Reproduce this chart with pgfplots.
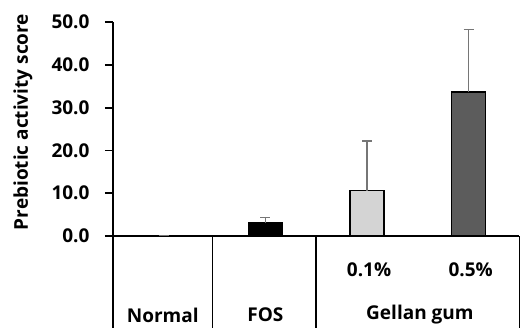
\documentclass[border=0pt]{standalone}
\usepackage{pgfplots}
\pgfplotsset{compat=1.18}
\usepackage{fontspec}
\setmainfont{Open Sans}
\definecolor{lightbar}{HTML}{D4D4D4}
\definecolor{darkbar}{HTML}{5C5C5C}
\definecolor{errgray}{HTML}{767676}
\newcommand{\lbl}{\fontsize{19bp}{22bp}\selectfont\bfseries}
\begin{document}
\begin{tikzpicture}[font=\lbl]
\useasboundingbox (-113bp,-92bp) rectangle (409bp,236bp);
\begin{axis}[
  scale only axis,
  width=406.5bp, height=214bp,
  xmin=0, xmax=4, ymin=0, ymax=50,
  axis x line=bottom, axis y line=left,
  axis line style={line width=1.8bp, -},
  ytick={0,10,20,30,40,50},
  xtick=\empty,
  tick align=outside,
  major tick length=8bp,
  tick style={line width=1.8bp, black},
  yticklabel style={font=\lbl, xshift=-12bp},
  /pgf/number format/assume math mode=true,
  /pgf/number format/fixed, /pgf/number format/fixed zerofill,
  /pgf/number format/precision=1,
  clip=false,
]
\addplot[ybar, bar width=34bp, draw=black, line width=1.6bp, fill=black!40,
  error bars/.cd, y dir=plus, y explicit,
  error bar style={errgray, line width=1.5bp},
  error mark options={rotate=90, mark size=5bp, line width=1.5bp, errgray}]
  coordinates {(0.5,0.15) +- (0,0)};
\addplot[ybar, bar width=34bp, draw=black, line width=1.6bp, fill=black,
  error bars/.cd, y dir=plus, y explicit,
  error bar style={errgray, line width=1.5bp},
  error mark options={rotate=90, mark size=5bp, line width=1.5bp, errgray}]
  coordinates {(1.5,3.1) +- (0,1.2)};
\addplot[ybar, bar width=34bp, draw=black, line width=1.6bp, fill=lightbar,
  error bars/.cd, y dir=plus, y explicit,
  error bar style={errgray, line width=1.5bp},
  error mark options={rotate=90, mark size=5bp, line width=1.5bp, errgray}]
  coordinates {(2.5,10.6) +- (0,11.6)};
\addplot[ybar, bar width=34bp, draw=black, line width=1.6bp, fill=darkbar,
  error bars/.cd, y dir=plus, y explicit,
  error bar style={errgray, line width=1.5bp},
  error mark options={rotate=90, mark size=5bp, line width=1.5bp, errgray}]
  coordinates {(3.5,33.6) +- (0,14.7)};
\draw[line width=1.8bp] (axis cs:0,0) -- ++(0,-92bp);
\draw[line width=1.8bp] (axis cs:0.98,0) -- ++(0,-92bp);
\draw[line width=1.8bp] (axis cs:2,0) -- ++(0,-92bp);
\draw[line width=1.8bp] (axis cs:4,0) -- ++(0,-92bp);
\node at ([yshift=-34bp]axis cs:2.52,0) {0.1\%};
\node at ([yshift=-34bp]axis cs:3.52,0) {0.5\%};
\node at ([yshift=-79bp]axis cs:0.49,0) {Normal};
\node at ([yshift=-79bp]axis cs:1.5,0) {FOS};
\node at ([yshift=-79bp]axis cs:3.02,0) {Gellan gum};
\end{axis}
\node[rotate=90] at (-90bp,114bp) {Prebiotic activity score};
\end{tikzpicture}
\end{document}
